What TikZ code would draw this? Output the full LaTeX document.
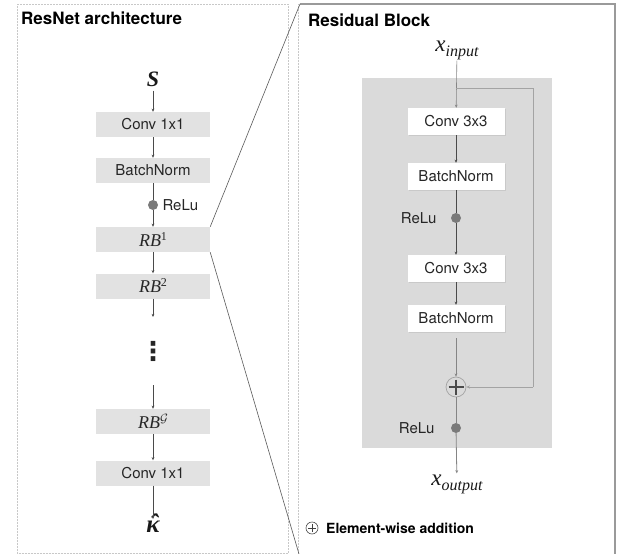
\documentclass[tikz,border=0pt]{standalone}
\usepackage{amsmath}
\usepackage{fontspec}
\setmainfont{TeX Gyre Heros}
\newfontfamily\serifit{Liberation Serif}
\newfontfamily\dvsans{DejaVu Sans}
\usetikzlibrary{arrows.meta,shadows,calc}
\definecolor{boxgray}{HTML}{E2E2E2}
\definecolor{bggray}{HTML}{DADADA}
\definecolor{linedark}{HTML}{4A4A4A}
\definecolor{linemid}{HTML}{858585}
\definecolor{skipgray}{HTML}{A3A3A3}
\definecolor{dotgray}{HTML}{7A7A7A}
\definecolor{framegray}{HTML}{9A9A9A}
\definecolor{dotframe}{HTML}{C8C8C8}
\definecolor{zoomline}{HTML}{5A5A5A}
\newcommand\rbtxt[1]{{\serifit\itshape\fontsize{18}{18}\selectfont RB}\raisebox{6pt}{\serifit\fontsize{12}{12}\selectfont #1}}
\newcommand\xsubtxt[1]{{\serifit\itshape\fontsize{23}{23}\selectfont x}\raisebox{-5pt}{\serifit\itshape\fontsize{16}{16}\selectfont #1}}
\begin{document}
\begin{tikzpicture}[x=1pt,y=-1pt,
  txt/.style={font=\fontsize{15}{17}\selectfont, text=black!85},
  lbox/.style={txt, fill=boxgray, minimum width=114pt, minimum height=25pt, inner sep=0pt},
  rbox/.style={txt, fill=white, minimum width=97pt, minimum height=27pt, inner sep=0pt,
    drop shadow={opacity=0.18, shadow xshift=1pt, shadow yshift=-1.2pt}},
  mathbig/.style={inner sep=1pt, text=black!90},
  title/.style={font=\bfseries\fontsize{17}{19}\selectfont, inner sep=0pt},
  conn/.style={draw=linedark, line width=0.6pt, -{Stealth[length=3.2pt,width=2.8pt]}},
  connplain/.style={draw=linedark, line width=0.6pt},
  connmid/.style={draw=linemid, line width=0.8pt, -{Stealth[length=3.2pt,width=2.8pt]}},
  connmidplain/.style={draw=linemid, line width=0.8pt},
  skip/.style={draw=skipgray, line width=1pt, -{Stealth[length=3.6pt,width=3.2pt]}},
  reludot/.style={circle, fill=dotgray, minimum size=10pt, inner sep=0pt},
  plusnode/.style={circle, draw=skipgray, line width=0.7pt, minimum size=20pt, inner sep=0pt, fill=bggray},
  framedot/.style={draw=dotframe, line width=0.5pt, densely dotted},
  frame/.style={draw=framegray, line width=1.2pt},
  zoom/.style={draw=zoomline, line width=0.6pt}
]
\useasboundingbox (0,0) rectangle (632,554);
\fill[white] (0,0) rectangle (632,554);

% ---------- frames ----------
\draw[framedot] (17,4) rectangle (288,553);
\draw[framedot] (298,4) -- (298,554);
\coordinate (fTL) at (300,4);
\coordinate (fTR) at (615,4);
\coordinate (fBR) at (615,554);
\coordinate (fBL) at (299,554);
\draw[frame] (fTL) -- (fTR) -- (fBR);

% ---------- left panel ----------
\node[title, anchor=base west] (ltitle) at (21,24) {ResNet architecture};

\node[mathbig, font=\serifit\bfseries\itshape\fontsize{22}{22}\selectfont] (S) at (153,79) {S};
\node[lbox] (c1) at (153,124.5) {Conv 1x1};
\node[lbox] (bn) at (153,170.5) {BatchNorm};
\node[reludot] (d1) at (153,205) {};
\node[txt, anchor=west] (r1) at (159,205) {ReLu};
\node[lbox] (rb1) at (153,239.5) {\rbtxt{1}};
\node[lbox] (rb2) at (153,286) {\rbtxt{2}};
\coordinate (e1) at (153,317);
\node[font=\dvsans\bfseries\fontsize{26}{26}\selectfont, inner sep=0pt, text=black!85] (vd) at (153,351) {⋮};
\coordinate (e2) at (153,385);
\node[lbox] (rbg) at (153,421.5) {\rbtxt{$\mathcal{G}$}};
\node[lbox] (c2) at (153,473) {Conv 1x1};
\node[mathbig, inner sep=0pt, font=\serifit\bfseries\itshape\fontsize{25}{25}\selectfont] (K) at (153,527)
  {\ooalign{κ\cr\hidewidth\hskip2pt\raisebox{1.5pt}{ˆ}\hidewidth\cr}};

\draw[conn, shorten <=3pt] (S) -- (c1);
\draw[conn] (c1) -- (bn);
\draw[connplain] (bn) -- (d1);
\draw[conn] (d1) -- (rb1);
\draw[conn] (rb1) -- (rb2);
\draw[conn] (rb2) -- (e1);
\draw[conn] (e2) -- (rbg);
\draw[conn] (rbg) -- (c2);
\draw[conn, shorten >=2pt] (c2) -- (K);

% zoom lines
\draw[zoom] (rb1.north east) -- (fTL);
\draw[zoom] (rb1.south east) -- (fBL);

% ---------- right panel ----------
\node[title, anchor=base west] (rtitle) at (308,27) {Residual Block};
\fill[bggray] (362,78) rectangle (552,448);

\node[mathbig] (xin) at (457,50) {\xsubtxt{input}};
\node[rbox] (rc1) at (456,121.5) {Conv 3x3};
\node[rbox] (rbn1) at (456,176.5) {BatchNorm};
\node[reludot] (d2) at (456,218) {};
\node[txt, anchor=east] (r2) at (440,218) {ReLu};
\node[rbox] (rc2) at (456,268.5) {Conv 3x3};
\node[rbox] (rbn2) at (456,318.5) {BatchNorm};
\node[plusnode] (plus) at (456,387) {};
\draw[linedark, line width=1.2pt] ($(plus.center)+(-7.5,0)$) -- ($(plus.center)+(7.5,0)$)
  ($(plus.center)+(0,-7.5)$) -- ($(plus.center)+(0,7.5)$);
\node[reludot] (d3) at (456,428) {};
\node[txt, anchor=east] (r3) at (438,428) {ReLu};
\node[mathbig] (xout) at (457,484) {\xsubtxt{output}};

\coordinate (s1) at (456,88);
\coordinate (s2) at (533,88);
\coordinate (s3) at (533,387);

\draw[conn, draw=linemid] (xin) -- (rc1);
\draw[skip, -] (s1) -- (s2) -- (s3);
\draw[skip] (s3) -- (plus);
\draw[conn] (rc1) -- (rbn1);
\draw[connplain] (rbn1) -- (d2);
\draw[conn] (d2) -- (rc2);
\draw[conn] (rc2) -- (rbn2);
\draw[connmid, shorten <=6pt] (rbn2) -- (plus);
\draw[connmidplain] (plus) -- (d3);
\draw[connmid] (d3) -- (xout);

% legend
\node[circle, draw=black!70, line width=0.6pt, minimum size=12pt, inner sep=0pt] (lp) at (312,528) {};
\draw[black!75, line width=0.7pt] ($(lp.center)+(-4,0)$) -- ($(lp.center)+(4,0)$)
  ($(lp.center)+(0,-4)$) -- ($(lp.center)+(0,4)$);
\node[font=\bfseries\fontsize{14}{16}\selectfont, anchor=west, inner sep=0pt] (ltext) at (326,528) {Element-wise addition};
\end{tikzpicture}
\end{document}
